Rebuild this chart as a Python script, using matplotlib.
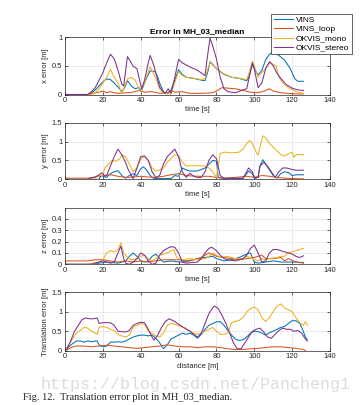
import matplotlib
matplotlib.use("Agg")
import matplotlib.pyplot as plt

# MATLAB default line colours
C_VINS = (0.000, 0.447, 0.741)
C_LOOP = (0.850, 0.325, 0.098)
C_MONO = (0.929, 0.694, 0.125)
C_STEREO = (0.494, 0.184, 0.556)

labels = ["VINS", "VINS_loop", "OKVIS_mono", "OKVIS_stereo"]

# x error [m] over time [s]  -- (t, value)
x_vins = [(0,0),(12,0),(14,0.03),(16,0.08),(18,0.15),(20,0.22),(22,0.27),(24,0.26),(26,0.2),(28,0.13),(30,0.05),(31.5,0.12),(33,0.24),(35,0.15),(37,0.1),(39,0.12),(40.5,0.07),(42,0.2),(44,0.35),(45,0.41),(47.5,0.40),(49,0.3),(50,0.2),(52,0.05),(54,0.01),(56,0.08),(58,0.25),(60,0.43),(62,0.35),(64,0.3),(68,0.28),(72,0.25),(74,0.24),(75.5,0.4),(76.6,0.57),(78,0.52),(80,0.45),(84,0.35),(88,0.3),(92,0.28),(96,0.24),(97,0.3),(99,0.52),(100,0.45),(102,0.34),(104,0.42),(106,0.6),(108,0.7),(110,0.74),(113,0.68),(116,0.6),(119,0.45),(121.5,0.27),(123,0.23),(126,0.23)]
x_loop = [(0,0),(12,0),(14,0.02),(16,0.03),(18,0.04),(20,0.06),(22,0.03),(24,0.05),(26,0.03),(28,0.02),(32,0.03),(36,0.04),(39,0.07),(42,0.04),(46,0.05),(50,0.02),(54,0.03),(56,0.07),(58,0.04),(62,0.05),(66,0.02),(72,0.02),(78,0.03),(80,0.06),(83,0.12),(86,0.11),(90,0.1),(94,0.07),(98,0.04),(102,0.03),(106,0.07),(108,0.1),(110,0.06),(114,0.03),(118,0.02),(122,0.01),(126,0.01)]
x_mono = [(0,0),(14,0),(16,0.03),(18,0.1),(20,0.2),(22,0.3),(24,0.44),(26,0.3),(28,0.2),(30,0.02),(31.5,0.15),(33,0.27),(35,0.3),(37,0.25),(38.5,0.15),(40,0.05),(42,0.2),(44,0.4),(45,0.48),(47,0.35),(49,0.2),(50,0.1),(52,0.02),(56,0.01),(58,0.2),(60,0.4),(62,0.33),(64,0.3),(68,0.28),(72,0.26),(74,0.28),(75.5,0.45),(77,0.57),(80,0.45),(84,0.36),(88,0.3),(92,0.28),(96,0.26),(97.5,0.4),(99,0.58),(100.5,0.45),(102,0.3),(104,0.38),(106,0.45),(108.5,0.56),(110,0.52),(111.5,0.5),(113,0.3),(115,0.2),(118,0.12),(122,0.05),(126,0.02)]
x_stereo = [(0,0),(12,0),(14,0.05),(16,0.12),(18,0.25),(20,0.38),(22,0.55),(24,0.70),(26,0.62),(28,0.42),(30,0.18),(31,0.15),(33,0.66),(35,0.55),(36,0.49),(38,0.45),(40.5,0.10),(42,0.25),(44,0.55),(45,0.68),(47,0.5),(49,0.25),(50,0.13),(52,0.04),(53,0.02),(54.5,0.1),(56,0.02),(58,0.3),(60,0.61),(62,0.55),(66,0.48),(70,0.42),(74,0.33),(75,0.6),(76.6,0.98),(78,0.85),(80,0.62),(82,0.3),(84,0.1),(86,0.05),(90,0.03),(94,0.08),(96,0.1),(98,0.4),(99,0.55),(100,0.45),(102,0.12),(104,0.2),(106,0.45),(108,0.57),(110,0.5),(112,0.37),(114,0.28),(117,0.17),(120,0.11),(123,0.08),(126,0.07)]

# y error [m]
y_vins = [(0,0),(18,0),(19,0.1),(20,0.08),(22,0.05),(24,0.15),(26,0.2),(28,0.23),(30,0.1),(32,0.03),(34,0.1),(36,0.15),(38,0.1),(40,0.28),(41.5,0.33),(43,0.25),(45,0.1),(47,0.02),(56,0.02),(58,0.1),(60,0.08),(62,0.3),(64,0.25),(66,0.22),(70,0.22),(74,0.3),(76,0.4),(78,0.5),(80,0.48),(81,0.05),(84,0.02),(94,0.02),(96,0.15),(97,0.22),(99,0.15),(100,0.02),(102,0.05),(103,0.35),(104.5,0.52),(106,0.4),(108,0.25),(110,0.1),(112,0.03),(114,0.15),(116,0.2),(118,0.18),(120,0.1),(122,0.12),(126,0.12)]
y_loop = [(0,0.03),(12,0.03),(16,0.06),(20,0.1),(24,0.12),(28,0.08),(32,0.05),(36,0.06),(40,0.08),(44,0.06),(48,0.05),(52,0.08),(56,0.12),(60,0.15),(64,0.1),(70,0.08),(76,0.08),(80,0.05),(84,0.03),(90,0.05),(96,0.08),(100,0.05),(104,0.1),(108,0.08),(112,0.05),(116,0.03),(120,0.02),(126,0.01)]
y_mono = [(0,0),(14,0),(16,0.05),(18,0.1),(20,0.1),(21,0.3),(23,0.4),(25,0.5),(27,0.48),(29,0.55),(30,0.65),(32,0.6),(34,0.4),(36,0.2),(38,0.3),(40,0.55),(42,0.6),(44,0.5),(46,0.3),(48,0.22),(50,0.25),(52,0.3),(54,0.45),(56,0.55),(58,0.65),(60,0.62),(62,0.45),(64,0.35),(66,0.36),(70,0.36),(74,0.35),(76,0.3),(78,0.2),(80,0.05),(82,0.68),(84,0.72),(88,0.7),(92,0.72),(94,0.8),(96,0.95),(97.5,1.03),(99,0.95),(101,0.72),(102,0.65),(103,0.85),(104.5,1.15),(106,1.1),(108,0.95),(110,0.85),(112,0.75),(114,0.65),(116,0.62),(118,0.68),(120,0.72),(121,0.58),(122,0.65),(124,0.66),(126,0.65)]
y_stereo = [(0,0),(12,0),(14,0.04),(16,0.06),(18,0.12),(19.5,0.17),(21,0.08),(22,0.1),(24,0.35),(26,0.6),(28,0.8),(30,0.65),(32,0.45),(33,0.3),(35,0.1),(36,0.02),(38,0.3),(40,0.6),(42,0.62),(44,0.5),(46,0.2),(48,0.05),(50,0.1),(52,0.4),(54,0.6),(56,0.7),(58,0.8),(60,0.6),(62,0.2),(64,0.05),(66,0.16),(68,0.08),(70,0.05),(72,0.05),(74,0.2),(76,0.5),(78,0.65),(80,0.55),(82,0.1),(84,0.03),(94,0.03),(96,0.2),(97,0.3),(99,0.2),(100,0.05),(102,0.05),(103,0.35),(105,0.45),(107,0.35),(109,0.2),(111,0.05),(113,0.2),(115,0.3),(117,0.3),(120,0.26),(122,0.24),(126,0.24)]

# z error [m]
z_vins = [(0,0),(16,0),(18,0.01),(22,0.02),(28,0.01),(32,0.03),(34,0.07),(36,0.1),(38,0.07),(40,0.03),(42,0.02),(44,0.03),(46,0.07),(48,0.09),(50,0.05),(52,0.02),(56,0.03),(60,0.02),(62,0.02),(66,0.03),(70,0.05),(74,0.06),(78,0.07),(80,0.05),(84,0.03),(88,0.04),(92,0.06),(96,0.09),(98,0.1),(100,0.02),(102,0.01),(106,0.02),(110,0.03),(114,0.02),(118,0.02),(122,0.02),(126,0.015)]
z_loop = [(0,0.03),(12,0.03),(16,0.04),(20,0.04),(24,0.03),(28,0.02),(32,0.03),(36,0.02),(40,0.03),(44,0.02),(48,0.03),(52,0.04),(56,0.04),(60,0.04),(64,0.03),(68,0.04),(72,0.06),(76,0.1),(80,0.07),(84,0.06),(88,0.05),(92,0.04),(96,0.05),(100,0.06),(104,0.08),(106,0.05),(110,0.05),(114,0.06),(116,0.03),(118,0.05),(122,0.02),(126,0.01)]
z_mono = [(0,0),(12,0),(14,0.01),(18,0.02),(20,0.04),(22,0.1),(24,0.12),(26,0.11),(28,0.13),(29.5,0.19),(31,0.1),(33,0.06),(35,0.04),(38,0.05),(40,0.07),(42,0.08),(44,0.05),(46,0.03),(48,0.05),(50,0.08),(54,0.1),(57.5,0.13),(59,0.06),(60,0.05),(62,0.04),(66,0.05),(70,0.04),(74,0.05),(76,0.07),(78,0.1),(80,0.08),(82,0.06),(86,0.07),(90,0.05),(94,0.05),(96,0.07),(98,0.06),(100,0.04),(102,0.03),(104,0.05),(106,0.04),(108,0.05),(112,0.06),(114,0.07),(116,0.07),(118,0.1),(120,0.11),(122,0.12),(124,0.13),(126,0.14)]
z_stereo = [(0,0),(14,0),(16,0.01),(18,0.02),(20,0.03),(22,0.02),(24,0.01),(26,0.02),(28,0.1),(29.5,0.16),(31,0.05),(32,0.01),(34,0.0),(36,0.02),(38,0.05),(40,0.1),(42,0.08),(44,0.03),(46,0.0),(48,0.01),(50,0.08),(52,0.12),(54,0.14),(56,0.155),(58,0.15),(60,0.1),(62,0.02),(64,0.01),(70,0.02),(72,0.05),(74,0.1),(76,0.14),(77.5,0.15),(80,0.12),(82,0.08),(84,0.05),(86,0.04),(90,0.03),(94,0.05),(96,0.08),(98,0.14),(100,0.17),(102,0.1),(104,0.02),(106,0.03),(108,0.1),(110,0.13),(112,0.13),(114,0.12),(116,0.11),(118,0.1),(120,0.09),(122,0.07),(124,0.06),(126,0.075)]

# translation error [m] over distance [m]
tr_vins = [(0,0),(2,0.1),(4,0.18),(6,0.25),(8,0.25),(10,0.22),(12,0.25),(14,0.23),(16,0.25),(17,0.25),(18,0.15),(20,0.1),(22,0.12),(24,0.22),(26,0.22),(28,0.23),(30,0.22),(32,0.25),(34,0.3),(36,0.35),(38,0.38),(40,0.4),(42,0.4),(44,0.38),(46,0.4),(48,0.32),(50,0.2),(52,0.05),(54,0.15),(56,0.3),(58,0.35),(60,0.4),(62,0.45),(64,0.42),(66,0.45),(68,0.4),(70,0.32),(72,0.42),(74,0.55),(76,0.65),(78,0.7),(80,0.74),(82,0.75),(84,0.65),(86,0.52),(88,0.4),(90,0.3),(92,0.26),(94,0.28),(96,0.35),(98,0.45),(100,0.5),(102,0.49),(104,0.45),(106,0.4),(108,0.46),(110,0.5),(112,0.55),(114,0.6),(116,0.62),(118,0.7),(120,0.77),(122,0.77),(124,0.7),(125.5,0.55),(127,0.35),(128,0.28)]
tr_loop = [(0,0),(2,0.05),(4,0.1),(6,0.12),(10,0.12),(14,0.1),(18,0.12),(22,0.14),(26,0.12),(30,0.1),(34,0.08),(38,0.06),(42,0.08),(46,0.1),(50,0.12),(54,0.15),(58,0.12),(62,0.1),(66,0.1),(70,0.08),(74,0.1),(78,0.1),(82,0.08),(86,0.05),(90,0.03),(94,0.03),(98,0.05),(102,0.06),(106,0.08),(110,0.1),(114,0.1),(118,0.08),(122,0.06),(126,0.03),(127,0.0)]
tr_mono = [(0,0),(2,0.15),(4,0.3),(6,0.45),(8,0.52),(10,0.6),(12,0.58),(14,0.5),(16,0.45),(17,0.42),(18,0.6),(20,0.62),(22,0.6),(24,0.55),(26,0.52),(28,0.42),(30,0.38),(32,0.35),(34,0.4),(36,0.6),(38,0.65),(40,0.7),(42,0.68),(44,0.5),(46,0.45),(48,0.38),(50,0.35),(52,0.45),(54,0.65),(56,0.7),(58,0.68),(60,0.65),(62,0.6),(64,0.58),(66,0.5),(68,0.45),(70,0.42),(72,0.45),(74,0.5),(76,0.55),(78,0.6),(80,0.5),(82,0.42),(84,0.42),(86,0.45),(88,0.72),(90,0.75),(92,0.78),(94,0.85),(96,1.0),(98,1.08),(100,1.12),(102,1.05),(104,0.85),(106,0.75),(108,0.85),(110,1.0),(112,1.15),(114,1.2),(116,1.1),(118,1.05),(120,1.0),(122,0.85),(124,0.72),(126,0.65),(127,0.75),(128,0.65)]
tr_stereo = [(0,0),(1,0.05),(3,0.25),(5,0.5),(7,0.65),(9,0.8),(11,0.84),(13,0.82),(15,0.82),(17,0.84),(18,0.7),(20,0.72),(24,0.72),(26,0.65),(28,0.5),(32,0.48),(34,0.52),(36,0.65),(38,0.7),(40,0.73),(42,0.72),(44,0.55),(46,0.35),(47,0.27),(49,0.4),(51,0.6),(53,0.75),(55,0.82),(58,0.75),(60,0.68),(62,0.62),(64,0.55),(66,0.5),(68,0.42),(70,0.35),(72,0.45),(74,0.7),(76,0.95),(78,1.1),(79,1.15),(81,1.08),(83,0.9),(85,0.7),(87,0.45),(89,0.2),(91,0.05),(93,0.05),(95,0.2),(97,0.35),(99,0.5),(101,0.55),(103,0.58),(105,0.48),(107,0.35),(109,0.32),(111,0.42),(113,0.52),(115,0.58),(117,0.55),(119,0.55),(121,0.5),(123,0.52),(125,0.45),(127,0.3),(128,0.25)]

panels = [
    ([x_vins, x_loop, x_mono, x_stereo], "x error [m]", "time [s]", (0, 1), [0, 0.5, 1]),
    ([y_vins, y_loop, y_mono, y_stereo], "y error [m]", "time [s]", (0, 1.5), [0, 0.5, 1, 1.5]),
    ([z_vins, z_loop, z_mono, z_stereo], "z error [m]", "time [s]", (0, 0.5), [0, 0.1, 0.2, 0.3, 0.4]),
    ([tr_vins, tr_loop, tr_mono, tr_stereo], "Translation error [m]", "distance [m]", (0, 1.5), [0, 0.5, 1, 1.5]),
]
colors = [C_VINS, C_LOOP, C_MONO, C_STEREO]

plt.rcParams['font.family'] = ['Liberation Sans', 'DejaVu Sans']

W, H = 361, 405
fig = plt.figure(figsize=(W / 100, H / 100), dpi=100, facecolor='white')

# axes boxes in pixels: (top, bottom)
boxes = [(37, 94.5), (122.7, 179.3), (207.5, 264.3), (292.3, 350.7)]
left, right = 65, 330

axes = []
for (series, ylab, xlab, ylim, yticks), (top, bot) in zip(panels, boxes):
    ax = fig.add_axes([left / W, 1 - bot / H, (right - left) / W, (bot - top) / H])
    for s, c in zip(series, colors):
        t = [p[0] for p in s]
        v = [p[1] for p in s]
        ax.plot(t, v, color=c, lw=0.75)
    ax.set_xlim(0, 140)
    ax.set_ylim(*ylim)
    ax.set_xticks(range(0, 141, 20))
    ax.set_yticks(yticks)
    ax.set_yticklabels([f"{v:g}" for v in yticks])
    ax.grid(True, color='#e3e3e3', lw=0.5)
    ax.set_axisbelow(True)
    ax.tick_params(direction='in', top=True, right=True, length=2, width=0.5,
                   labelsize=5.5, pad=2, colors='#262626')
    for sp in ax.spines.values():
        sp.set_linewidth(0.5)
        sp.set_color('#262626')
    ax.set_ylabel(ylab, fontsize=5.5, labelpad=2, color='#262626')
    ax.set_xlabel(xlab, fontsize=5.5, labelpad=1.5, color='#262626')
    axes.append(ax)

axes[0].set_title("Error in MH_03_median", fontsize=6, fontweight='bold', pad=3)

handles = axes[0].get_lines()
fig.legend(handles, labels, loc='upper right', bbox_to_anchor=(352 / W, 1 - 14 / H),
           fontsize=6, frameon=True, fancybox=False, edgecolor='#262626',
           framealpha=1, borderpad=0.3, labelspacing=0.15, handlelength=2.3,
           handletextpad=0.4, borderaxespad=0).get_frame().set_linewidth(0.5)

fig.text(40 / W, 1 - 384 / H, "https://blog.csdn.net/Pancheng1", fontsize=12,
         family='Liberation Mono', color='#dcdcdc', va='center', ha='left')
fig.text(23 / W, 1 - 397 / H, "Fig. 12.  Translation error plot in MH_03_median.",
         fontsize=7.5, family='Liberation Serif', color='#222222', va='center', ha='left')

fig.savefig("out.png", dpi=100, facecolor='white')
